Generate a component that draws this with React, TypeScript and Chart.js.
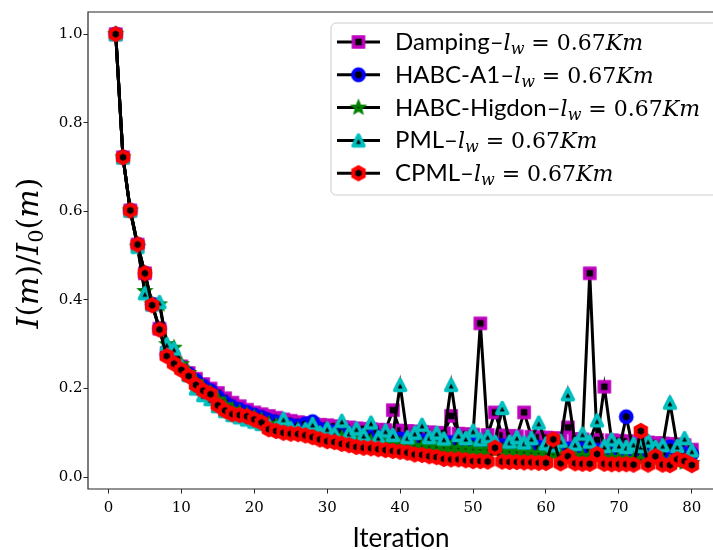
import React, { useEffect, useRef } from "react";
import { Chart, registerables } from "chart.js";

Chart.register(...registerables);

// ---------------- DATA ----------------
const iterations = [
  1, 2, 3, 4, 5, 6, 7, 8, 9, 10, 11, 12, 13, 14, 15, 16, 17, 18, 19, 20,
  21, 22, 23, 24, 25, 26, 27, 28, 29, 30, 31, 32, 33, 34, 35, 36, 37, 38, 39, 40,
  41, 42, 43, 44, 45, 46, 47, 48, 49, 50, 51, 52, 53, 54, 55, 56, 57, 58, 59, 60,
  61, 62, 63, 64, 65, 66, 67, 68, 69, 70, 71, 72, 73, 74, 75, 76, 77, 78, 79, 80,
];

const damping = [
  1.0, 0.722, 0.602, 0.525, 0.46, 0.39, 0.335, 0.28, 0.265, 0.25,
  0.235, 0.222, 0.21, 0.2, 0.19, 0.178, 0.168, 0.16, 0.152, 0.146,
  0.142, 0.138, 0.134, 0.13, 0.127, 0.124, 0.122, 0.12, 0.118, 0.117,
  0.115, 0.113, 0.112, 0.11, 0.109, 0.108, 0.107, 0.106, 0.151, 0.105,
  0.104, 0.103, 0.102, 0.101, 0.1, 0.099, 0.138, 0.098, 0.097, 0.096,
  0.347, 0.095, 0.146, 0.094, 0.093, 0.092, 0.146, 0.091, 0.09, 0.089,
  0.088, 0.087, 0.112, 0.086, 0.085, 0.46, 0.084, 0.204, 0.083, 0.082,
  0.081, 0.08, 0.079, 0.078, 0.077, 0.076, 0.075, 0.074, 0.072, 0.062,
];

const habcA1 = [
  1.0, 0.722, 0.602, 0.525, 0.46, 0.39, 0.335, 0.277, 0.262, 0.247,
  0.233, 0.218, 0.205, 0.195, 0.18, 0.168, 0.158, 0.152, 0.146, 0.14,
  0.135, 0.128, 0.124, 0.12, 0.117, 0.115, 0.12, 0.125, 0.108, 0.105,
  0.102, 0.1, 0.098, 0.096, 0.094, 0.092, 0.09, 0.089, 0.087, 0.086,
  0.085, 0.083, 0.082, 0.081, 0.08, 0.079, 0.078, 0.077, 0.076, 0.075,
  0.074, 0.073, 0.072, 0.071, 0.07, 0.07, 0.069, 0.068, 0.067, 0.066,
  0.066, 0.065, 0.064, 0.063, 0.063, 0.062, 0.061, 0.06, 0.06, 0.059,
  0.136, 0.058, 0.057, 0.057, 0.056, 0.055, 0.068, 0.054, 0.053, 0.052,
];

const habcHigdon = [
  1.0, 0.722, 0.602, 0.52, 0.42, 0.39, 0.39, 0.3, 0.292, 0.255,
  0.235, 0.215, 0.2, 0.19, 0.175, 0.162, 0.152, 0.146, 0.14, 0.135,
  0.128, 0.12, 0.116, 0.112, 0.109, 0.107, 0.104, 0.101, 0.098, 0.095,
  0.092, 0.089, 0.086, 0.083, 0.081, 0.079, 0.077, 0.075, 0.074, 0.073,
  0.072, 0.07, 0.069, 0.068, 0.067, 0.066, 0.065, 0.064, 0.063, 0.062,
  0.061, 0.06, 0.059, 0.058, 0.057, 0.056, 0.055, 0.054, 0.053, 0.052,
  0.051, 0.05, 0.049, 0.048, 0.047, 0.046, 0.045, 0.044, 0.043, 0.042,
  0.041, 0.04, 0.039, 0.038, 0.037, 0.036, 0.035, 0.034, 0.033, 0.032,
];

const pml = [
  1.0, 0.722, 0.602, 0.52, 0.415, 0.39, 0.395, 0.3, 0.29, 0.25,
  0.23, 0.2, 0.185, 0.176, 0.16, 0.149, 0.14, 0.135, 0.13, 0.125,
  0.12, 0.115, 0.11, 0.132, 0.11, 0.105, 0.108, 0.12, 0.1, 0.11,
  0.098, 0.127, 0.1, 0.11, 0.095, 0.123, 0.09, 0.105, 0.095, 0.208,
  0.09, 0.1, 0.118, 0.09, 0.1, 0.087, 0.208, 0.095, 0.088, 0.105,
  0.085, 0.092, 0.08, 0.156, 0.08, 0.09, 0.078, 0.088, 0.123, 0.076,
  0.072, 0.082, 0.187, 0.075, 0.098, 0.08, 0.128, 0.07, 0.085, 0.072,
  0.068, 0.075, 0.07, 0.082, 0.068, 0.072, 0.168, 0.07, 0.088, 0.06,
];

const cpml = [
  1.0, 0.722, 0.602, 0.525, 0.46, 0.388, 0.333, 0.273, 0.256, 0.242,
  0.228, 0.208, 0.195, 0.187, 0.162, 0.15, 0.142, 0.14, 0.137, 0.13,
  0.123, 0.108, 0.104, 0.1, 0.098, 0.097, 0.094, 0.09, 0.085, 0.081,
  0.079, 0.075, 0.072, 0.068, 0.066, 0.065, 0.063, 0.061, 0.059, 0.057,
  0.055, 0.051, 0.05, 0.047, 0.045, 0.041, 0.04, 0.04, 0.038, 0.036,
  0.036, 0.035, 0.066, 0.035, 0.034, 0.034, 0.033, 0.033, 0.032, 0.032,
  0.085, 0.031, 0.047, 0.031, 0.03, 0.03, 0.052, 0.03, 0.029, 0.029,
  0.029, 0.028, 0.104, 0.028, 0.047, 0.028, 0.027, 0.04, 0.036, 0.027,
];

const seriesNames = ["Damping", "HABC-A1", "HABC-Higdon", "PML", "CPML"];
const xTicks = [0, 10, 20, 30, 40, 50, 60, 70, 80];
const yTicks = [0.0, 0.2, 0.4, 0.6, 0.8, 1.0];
const xTitle = "Iteration";

// ---------------- MARKERS ----------------
type Shape = "square" | "circle" | "star" | "triangle" | "hexagon";

function makeMarker(shape: Shape, edge: string, face: string, lw: number) {
  const S = 22;
  const c = document.createElement("canvas");
  c.width = S;
  c.height = S;
  const g = c.getContext("2d")!;
  g.translate(S / 2, S / 2);
  g.beginPath();
  if (shape === "square") {
    g.rect(-5, -5, 10, 10);
  } else if (shape === "circle") {
    g.arc(0, 0, 5.4, 0, Math.PI * 2);
  } else if (shape === "triangle") {
    const r = 5.4;
    g.moveTo(0, -r);
    g.lineTo(r, r);
    g.lineTo(-r, r);
    g.closePath();
  } else if (shape === "hexagon") {
    const r = 6;
    for (let k = 0; k < 6; k++) {
      const a = (-90 + 60 * k) * (Math.PI / 180);
      const px = r * Math.cos(a);
      const py = r * Math.sin(a);
      if (k === 0) g.moveTo(px, py);
      else g.lineTo(px, py);
    }
    g.closePath();
  } else if (shape === "star") {
    const ro = 5.2;
    const ri = 2.3;
    for (let k = 0; k < 10; k++) {
      const a = (-90 + 36 * k) * (Math.PI / 180);
      const r = k % 2 === 0 ? ro : ri;
      const px = r * Math.cos(a);
      const py = r * Math.sin(a);
      if (k === 0) g.moveTo(px, py);
      else g.lineTo(px, py);
    }
    g.closePath();
  }
  g.fillStyle = face;
  g.fill();
  g.lineWidth = lw;
  g.strokeStyle = edge;
  g.lineJoin = shape === "triangle" ? "round" : "miter";
  g.stroke();
  return c;
}

// ---------------- TEXT HELPERS ----------------
type Run = { t: string; f: string; dy?: number };

function runsWidth(ctx: CanvasRenderingContext2D, runs: Run[]) {
  let w = 0;
  for (const r of runs) {
    ctx.font = r.f;
    w += ctx.measureText(r.t).width;
  }
  return w;
}

function drawRuns(ctx: CanvasRenderingContext2D, runs: Run[], x: number, y: number) {
  let cx = x;
  for (const r of runs) {
    ctx.font = r.f;
    ctx.fillText(r.t, cx, y + (r.dy || 0));
    cx += ctx.measureText(r.t).width;
  }
  return cx - x;
}

const SANS = "Lato";
const SERIF = '"DejaVu Serif"';

export default function App() {
  const canvasRef = useRef<HTMLCanvasElement | null>(null);

  useEffect(() => {
    const canvas = canvasRef.current;
    if (!canvas) return;

    const markers = [
      makeMarker("square", "#bf00bf", "#000000", 3.6),
      makeMarker("circle", "#0000ff", "#000000", 4),
      makeMarker("star", "#008000", "#000000", 3),
      makeMarker("triangle", "#00bfbf", "#000000", 3.6),
      makeMarker("hexagon", "#ff0000", "#000000", 4),
    ];
    const values = [damping, habcA1, habcHigdon, pml, cpml];

    const datasets = values.map((vals, si) => ({
      label: seriesNames[si],
      data: iterations.map((it, i) => ({ x: it, y: vals[i] })),
      borderColor: "#000000",
      borderWidth: 3,
      pointStyle: markers[si] as any,
      pointRadius: 7,
      pointHoverRadius: 7,
      fill: false,
      tension: 0,
      order: 5 - si,
    }));

    const overlay = {
      id: "overlay",
      afterDatasetsDraw(chart: any) {
        const { ctx, chartArea: a } = chart;
        ctx.save();
        // frame
        ctx.strokeStyle = "#262626";
        ctx.lineWidth = 1.2;
        ctx.beginPath();
        ctx.moveTo(a.right + 20, a.top);
        ctx.lineTo(a.left, a.top);
        ctx.lineTo(a.left, a.bottom);
        ctx.lineTo(a.right + 20, a.bottom);
        ctx.stroke();

        // legend box
        const lx = 331, ly = 23, lw = 420, lh = 172, rr = 5;
        ctx.beginPath();
        ctx.moveTo(lx + rr, ly);
        ctx.lineTo(lx + lw - rr, ly);
        ctx.arcTo(lx + lw, ly, lx + lw, ly + rr, rr);
        ctx.lineTo(lx + lw, ly + lh - rr);
        ctx.arcTo(lx + lw, ly + lh, lx + lw - rr, ly + lh, rr);
        ctx.lineTo(lx + rr, ly + lh);
        ctx.arcTo(lx, ly + lh, lx, ly + lh - rr, rr);
        ctx.lineTo(lx, ly + rr);
        ctx.arcTo(lx, ly, lx + rr, ly, rr);
        ctx.closePath();
        ctx.fillStyle = "rgba(255,255,255,0.8)";
        ctx.fill();
        ctx.strokeStyle = "#cccccc";
        ctx.lineWidth = 1;
        ctx.stroke();

        ctx.fillStyle = "#000000";
        ctx.textAlign = "left";
        ctx.textBaseline = "alphabetic";
        for (let k = 0; k < seriesNames.length; k++) {
          const cy = 42 + 32.8 * k;
          ctx.strokeStyle = "#000000";
          ctx.lineWidth = 3;
          ctx.beginPath();
          ctx.moveTo(337, cy);
          ctx.lineTo(380, cy);
          ctx.stroke();
          const m = markers[k];
          ctx.drawImage(m, 358.5 - m.width / 2, cy - m.height / 2);
          const runs: Run[] = [
            { t: seriesNames[k] + "\u2013", f: `24px ${SANS}` },
            { t: "l", f: `italic 22px ${SERIF}` },
            { t: "w", f: `italic 16px ${SERIF}`, dy: 4 },
            { t: " = 0.67", f: `22px ${SERIF}` },
            { t: "Km", f: `italic 22px ${SERIF}` },
          ];
          drawRuns(ctx, runs, 395, cy + 8);
        }
        ctx.restore();
      },
      afterDraw(chart: any) {
        const { ctx } = chart;
        ctx.save();
        ctx.fillStyle = "#000000";
        ctx.textBaseline = "alphabetic";
        ctx.textAlign = "left";
        // x title
        ctx.font = `26px ${SANS}`;
        const tw = ctx.measureText(xTitle).width;
        ctx.fillText(xTitle, 401 - tw / 2, 547);
        // y title
        const it = `italic 30px ${SERIF}`;
        const ro = `30px ${SERIF}`;
        const runs: Run[] = [
          { t: "I", f: it },
          { t: "(", f: ro },
          { t: "m", f: it },
          { t: ")/", f: ro },
          { t: "I", f: it },
          { t: "0", f: `21px ${SERIF}`, dy: 5 },
          { t: "(", f: ro },
          { t: "m", f: it },
          { t: ")", f: ro },
        ];
        ctx.translate(38, 253);
        ctx.rotate(-Math.PI / 2);
        const w = runsWidth(ctx, runs);
        drawRuns(ctx, runs, -w / 2, 0);
        ctx.restore();
      },
    };

    const chart = new Chart(canvas, {
      type: "line",
      data: { datasets: datasets as any },
      options: {
        animation: false,
        responsive: false,
        devicePixelRatio: 1,
        layout: { autoPadding: false, padding: { top: 12, right: 0, left: 0, bottom: 0 } },
        plugins: {
          legend: { display: false },
          tooltip: { enabled: false },
          title: { display: false },
        },
        scales: {
          x: {
            type: "linear",
            min: -2.8,
            max: 82.9,
            afterFit: (s: any) => {
              s.height = 61;
            },
            afterBuildTicks: (s: any) => {
              s.ticks = xTicks.map((v) => ({ value: v }));
            },
            grid: {
              display: true,
              drawOnChartArea: false,
              drawTicks: true,
              tickLength: 4.5,
              tickColor: "#262626",
              lineWidth: 1,
            },
            border: { display: false },
            ticks: {
              color: "#000000",
              font: { family: "DejaVu Serif", size: 15 },
              padding: 6,
              maxRotation: 0,
              callback: (v: any) => String(v),
            },
          },
          y: {
            type: "linear",
            min: -0.027,
            max: 1.05,
            afterFit: (s: any) => {
              s.width = 88;
            },
            afterBuildTicks: (s: any) => {
              s.ticks = yTicks.map((v) => ({ value: v }));
            },
            grid: {
              display: true,
              drawOnChartArea: false,
              drawTicks: true,
              tickLength: 4.5,
              tickColor: "#262626",
              lineWidth: 1,
            },
            border: { display: false },
            ticks: {
              color: "#000000",
              font: { family: "DejaVu Serif", size: 15 },
              padding: 1,
              callback: (v: any) => Number(v).toFixed(1),
            },
          },
        },
      },
      plugins: [overlay],
    });

    return () => chart.destroy();
  }, []);

  return (
    <div style={{ position: "absolute", left: 0, top: 0, width: 713, height: 550, background: "#ffffff" }}>
      <canvas ref={canvasRef} width={713} height={550} style={{ display: "block", width: 713, height: 550 }} />
    </div>
  );
}
